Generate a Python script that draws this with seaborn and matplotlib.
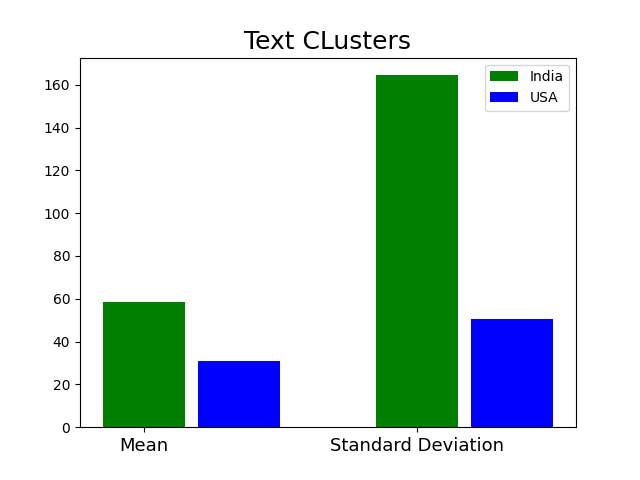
import matplotlib
matplotlib.use("Agg")
import matplotlib.pyplot as plt
import seaborn as sns
import numpy as np

categories = ["Mean", "Standard Deviation"]
india = [58.5, 164.5]
usa = [31.0, 50.5]

sns.set_style("ticks", {"text.color": "black", "axes.labelcolor": "black",
                        "xtick.color": "black", "ytick.color": "black",
                        "axes.edgecolor": "black"})
plt.rcParams["font.family"] = ["DejaVu Sans"]

fig, ax = plt.subplots(figsize=(6.4, 4.8), dpi=100)

pos = np.arange(len(categories))
bar_width = 0.3
sns.barplot(x=pos, y=india, native_scale=True, width=bar_width,
            color="green", saturation=1, label="India", linewidth=0, ax=ax)
sns.barplot(x=pos + 0.35, y=usa, native_scale=True, width=bar_width,
            color="blue", saturation=1, label="USA", linewidth=0, ax=ax)

ax.set_xlim(-0.2325, 1.5825)
ax.set_ylim(0, 172.7)
ax.set_xticks(pos)
ax.set_xticklabels(categories, fontsize=13)
ax.tick_params(axis="y", labelsize=10)
ax.set_title("Text CLusters", fontsize=18)
for s in ax.spines.values():
    s.set_visible(True)
    s.set_color("black")
ax.legend(loc="upper right", fontsize=10)

plt.subplots_adjust(left=0.125, right=0.9, bottom=0.11, top=0.88)
plt.savefig("out.png", dpi=100)
